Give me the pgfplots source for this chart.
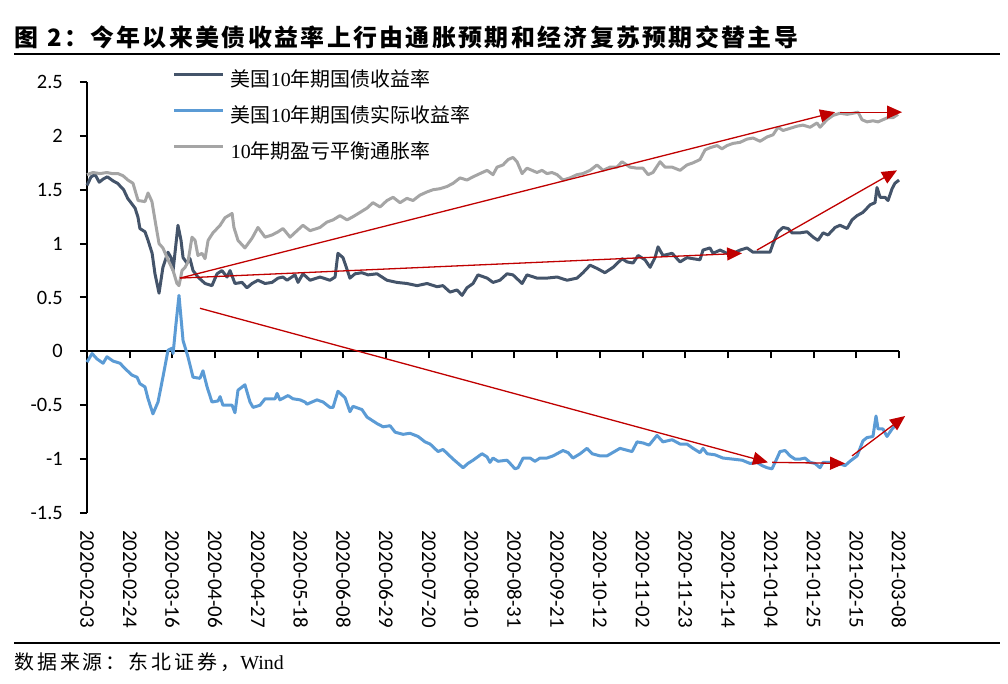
\documentclass[border=0pt]{standalone}
\usepackage{fontspec}
\usepackage{pgfplots}
\pgfplotsset{compat=1.18}
\usetikzlibrary{arrows.meta}
\setmainfont{Liberation Serif}
\newfontfamily\cjk{Noto Sans CJK SC}
\newfontfamily\calib{Carlito}
\definecolor{nom}{HTML}{44546A}
\definecolor{real}{HTML}{5B9BD5}
\definecolor{bei}{HTML}{A5A5A5}
\definecolor{arr}{HTML}{C00000}
\pgfplotsset{redarrow/.style={color=arr, line width=1.3bp, -{Triangle[length=15bp,width=13bp]}, forget plot}}
\begin{document}
\begin{tikzpicture}
\path[use as bounding box] (0,0) rectangle (1008bp,684bp);
\node[anchor=west, inner sep=0pt, font=\cjk\bfseries\fontsize{24}{28}\selectfont\addfontfeature{LetterSpace=10}] at (14bp,647bp) {图\hspace{9bp}2：今年以来美债收益率上行由通胀预期和经济复苏预期交替主导};
\draw[line width=2.5bp] (14bp,630bp) -- (1000bp,630bp);
\draw[line width=2bp] (14bp,41bp) -- (1000bp,41bp);
\node[anchor=west, inner sep=0pt, font=\fontsize{20}{24}\selectfont] at (14bp,22bp) {{\cjk\addfontfeature{LetterSpace=15}数据来源：东北证券，}Wind};

\begin{axis}[
 at={(87bp,171bp)}, anchor=south west,
 scale only axis, width=812bp, height=431bp,
 xmin=0, xmax=399, ymin=-1.5, ymax=2.5,
 axis y line*=left, axis x line*=middle,
 axis line style={line width=2bp, black},
 xtick={0,21,...,399}, xticklabels={},
 ytick={-1.5,-1,-0.5,0,0.5,1,1.5,2,2.5},
 yticklabels={-1.5,-1,-0.5,0,0.5,1,1.5,2,2.5},
 tick align=outside, major tick length=7bp,
 tick style={line width=2bp, black},
 yticklabel style={font=\calib\fontsize{20.5}{24}\selectfont, anchor=east, inner sep=0pt, xshift=-17bp},
 clip=false,
 legend cell align=left,
 legend style={at={(axis description cs:0.1059,0.9165)}, anchor=west, draw=none, fill=none, inner sep=0pt, outer sep=0pt, row sep=16bp, column sep=6bp, font=\fontsize{20}{24}\selectfont, nodes={inner sep=0pt, text height=15bp, text depth=5bp}},
 legend image code/.code={\draw[#1] (0bp,7bp) -- (49bp,7bp);},
]
\addplot[nom, line width=3bp, line join=round] coordinates {
(0,1.54)(2,1.62)(4,1.64)(6,1.57)(8,1.60)(10,1.62)(13,1.58)(15,1.56)(18,1.50)(20,1.42)(23.6,1.33)(25,1.25)(26,1.14)(28.5,1.11)(30,1.03)(32,0.91)(33.4,0.72)(35.4,0.54)(37.3,0.78)(39.8,0.92)(41.3,0.87)(42.3,0.75)(44.7,1.17)(46.2,1.03)(47.2,0.87)(49.1,0.82)(50.6,0.86)(52.1,0.75)(54.5,0.69)(58,0.63)(61.4,0.61)(63.9,0.72)(66.3,0.75)(68.8,0.69)(70.3,0.75)(72.7,0.63)(76.2,0.64)(78.6,0.59)(81.1,0.63)(84,0.66)(87.5,0.63)(90.9,0.64)(93.9,0.68)(96.3,0.69)(98.3,0.66)(102.2,0.71)(103.7,0.64)(106.1,0.72)(109.6,0.66)(114.5,0.69)(119.4,0.66)(121.9,0.69)(123.3,0.91)(125.8,0.87)(129.2,0.68)(131.7,0.72)(135.1,0.73)(138.1,0.71)(142.5,0.72)(147.4,0.66)(152.3,0.64)(157.2,0.63)(162.2,0.61)(167.1,0.63)(172,0.60)(174.9,0.61)(178.4,0.55)(181.8,0.57)(184.3,0.52)(186.7,0.59)(189.7,0.63)(192.1,0.71)(196.6,0.68)(199.5,0.64)(202.9,0.66)(206.4,0.72)(209.3,0.71)(213.8,0.63)(216.2,0.71)(221.1,0.68)(226,0.68)(231,0.69)(235.9,0.66)(240.8,0.68)(243.7,0.73)(247.2,0.80)(250.6,0.77)(254.5,0.73)(258.5,0.78)(262.9,0.86)(265.4,0.83)(268.3,0.82)(270.8,0.89)(274.2,0.85)(276.7,0.78)(279.1,0.87)(280.6,0.97)(283,0.89)(287.5,0.91)(291.4,0.83)(294.8,0.87)(297.8,0.86)(301.2,0.85)(302.7,0.94)(306.1,0.96)(307.6,0.91)(311.1,0.94)(314.5,0.91)(317.4,0.91)(320.9,0.94)(324.3,0.96)(327.3,0.92)(330.7,0.92)(335.6,0.92)(337.1,1.00)(339.6,1.11)(342,1.15)(344.5,1.14)(346.4,1.10)(350.4,1.10)(353.8,1.11)(356.8,1.06)(359.2,1.03)(361.7,1.10)(364.1,1.08)(367.6,1.15)(370,1.17)(373.5,1.14)(375.9,1.22)(378.4,1.26)(381.3,1.29)(384.8,1.36)(387.2,1.38)(388.2,1.52)(389.7,1.43)(392.1,1.43)(393.6,1.40)(395.6,1.51)(397,1.56)(399,1.59)
};
\addlegendentry{{\cjk 美国}10{\cjk 年期国债收益率}}
\addplot[real, line width=3bp, line join=round] coordinates {
(0,-0.10)(2.5,-0.02)(4.9,-0.07)(7.9,-0.11)(9.8,-0.05)(12.8,-0.09)(16.2,-0.11)(18.7,-0.16)(22.1,-0.22)(24.6,-0.24)(26,-0.30)(28.5,-0.33)(30,-0.44)(32.4,-0.58)(34.9,-0.47)(37.3,-0.24)(39.8,0.01)(41.8,0.03)(42.3,-0.02)(43.7,0.25)(45.2,0.52)(47.2,0.10)(49.6,-0.05)(52.1,-0.24)(55.5,-0.25)(57,-0.18)(59,-0.33)(61.4,-0.47)(64.4,-0.46)(65.4,-0.42)(66.8,-0.50)(71.3,-0.50)(72.7,-0.57)(74.2,-0.36)(77.6,-0.31)(80.1,-0.47)(81.6,-0.52)(85,-0.50)(87.5,-0.44)(92.4,-0.44)(93.4,-0.39)(94.8,-0.45)(98.8,-0.41)(101.2,-0.44)(104.7,-0.45)(107.1,-0.47)(108.1,-0.49)(113,-0.45)(116,-0.47)(119.4,-0.52)(120.9,-0.52)(123.3,-0.37)(126.8,-0.43)(129.2,-0.56)(130.7,-0.51)(135.1,-0.54)(137.6,-0.61)(142.5,-0.67)(145.5,-0.70)(148.9,-0.69)(151.4,-0.75)(155.3,-0.77)(158.7,-0.76)(162.7,-0.79)(166.1,-0.84)(168.6,-0.86)(172.5,-0.93)(174.9,-0.91)(179.9,-1.00)(184.8,-1.08)(187.2,-1.04)(189.7,-1.01)(194.1,-0.95)(196.6,-0.98)(198,-1.03)(199.5,-0.99)(202,-1.02)(206.4,-1.01)(207.9,-1.04)(210.3,-1.09)(211.8,-1.08)(214.3,-0.99)(217.7,-0.99)(220.1,-1.02)(222.6,-0.99)(226,-0.99)(229,-0.97)(233.9,-0.92)(236.4,-0.94)(238.8,-0.99)(242.3,-0.95)(245.7,-0.90)(248.2,-0.95)(252.1,-0.97)(255.5,-0.97)(261.9,-0.90)(267.8,-0.93)(270.3,-0.84)(273.2,-0.85)(276.2,-0.87)(280.1,-0.78)(283,-0.84)(287.5,-0.82)(291.4,-0.86)(294.8,-0.86)(297.8,-0.90)(301.2,-0.94)(302.7,-0.90)(304.7,-0.95)(308.6,-0.96)(312.5,-0.99)(317.4,-1.00)(321.9,-1.01)(325.8,-1.04)(329.2,-1.03)(331.7,-1.06)(334.2,-1.08)(336.6,-1.09)(339.1,-0.99)(340.5,-0.93)(343,-0.92)(345.5,-0.97)(347.9,-1.00)(350.4,-1.00)(352.8,-0.99)(355.3,-1.03)(357.7,-1.04)(360.2,-1.08)(361.7,-1.03)(365.1,-1.03)(369,-1.04)(372.5,-1.06)(374.9,-1.02)(378.4,-0.97)(381.3,-0.83)(383.3,-0.80)(386.2,-0.79)(387.7,-0.60)(388.7,-0.72)(391.1,-0.72)(393.1,-0.79)(395.6,-0.72)(398,-0.67)
};
\addlegendentry{{\cjk 美国}10{\cjk 年期国债实际收益率}}
\addplot[bei, line width=3bp, line join=round] coordinates {
(0,1.64)(2.9,1.66)(6.4,1.65)(9.8,1.66)(12.3,1.65)(15.2,1.65)(17.7,1.63)(20.1,1.59)(22.6,1.56)(25.1,1.40)(28.5,1.39)(30,1.47)(31.9,1.39)(33.4,1.22)(35.4,1.00)(37.3,0.96)(39.8,0.85)(42.3,0.75)(44.2,0.63)(45.2,0.61)(46.7,0.75)(48.2,0.78)(49.6,0.83)(51.6,1.06)(53.1,1.03)(54.5,0.89)(56.5,0.91)(58,0.86)(59.5,1.03)(61.9,1.10)(65.4,1.17)(67.8,1.24)(71.3,1.28)(72.2,1.15)(74.2,1.03)(77.6,0.96)(81.1,1.05)(84,1.15)(87.5,1.06)(90.9,1.08)(93.9,1.11)(96.3,1.14)(99.8,1.06)(103.2,1.12)(106.1,1.17)(109.6,1.12)(114.5,1.15)(117.9,1.20)(120.9,1.22)(124.3,1.26)(127.8,1.22)(130.7,1.25)(134.2,1.29)(137.6,1.33)(140.5,1.38)(144,1.34)(147.4,1.40)(150.4,1.43)(153.8,1.38)(157.2,1.42)(160.2,1.40)(163.6,1.45)(167.1,1.48)(170,1.50)(173.5,1.51)(176.9,1.53)(179.9,1.56)(183.3,1.61)(186.7,1.59)(189.7,1.62)(193.1,1.65)(196.6,1.68)(199.5,1.64)(201.5,1.71)(204.4,1.73)(206.9,1.78)(209.3,1.80)(211.3,1.76)(213.8,1.65)(216.2,1.70)(218.7,1.68)(221.1,1.66)(223.6,1.68)(226,1.65)(228.5,1.66)(231,1.64)(233.9,1.59)(237.3,1.61)(240.8,1.64)(243.7,1.65)(247.2,1.68)(250.6,1.73)(253.6,1.68)(257,1.71)(260.4,1.71)(262.9,1.76)(266.8,1.71)(270.3,1.70)(273.2,1.70)(275.7,1.64)(278.1,1.66)(281.6,1.76)(284,1.71)(287.5,1.71)(291.4,1.68)(294.8,1.73)(297.8,1.75)(301.2,1.78)(303.7,1.87)(306.1,1.89)(309.6,1.91)(312,1.88)(314.5,1.91)(317.4,1.93)(320.9,1.94)(324.3,1.97)(327.3,1.98)(330.7,1.95)(334.2,1.99)(337.1,2.01)(339.6,2.08)(342,2.05)(345.5,2.07)(348.9,2.09)(351.8,2.10)(355.3,2.08)(358.7,2.12)(360.2,2.08)(363.6,2.15)(366.6,2.19)(370,2.21)(373.5,2.20)(376.4,2.21)(378.9,2.22)(380.8,2.15)(383.3,2.13)(386.2,2.14)(388.7,2.13)(391.1,2.15)(393.6,2.17)(396.1,2.17)(398.5,2.20)
};
\addlegendentry{10{\cjk 年期盈亏平衡通胀率}}
\addplot[redarrow] coordinates {(45.7,0.68)(367.6,2.22)};
\addplot[redarrow] coordinates {(45.7,0.68)(321.9,0.91)};
\addplot[redarrow] coordinates {(370,2.22)(400.5,2.22)};
\addplot[redarrow] coordinates {(329.2,0.94)(398,1.68)};
\addplot[redarrow] coordinates {(55.5,0.40)(334.6,-1.03)};
\addplot[redarrow] coordinates {(336.6,-1.03)(372.5,-1.04)};
\addplot[redarrow] coordinates {(375.9,-0.97)(402,-0.60)};
\end{axis}

\begin{axis}[
 at={(87bp,171bp)}, anchor=south west,
 scale only axis, width=812bp, height=431bp,
 xmin=0, xmax=399, ymin=-1.5, ymax=2.5,
 hide y axis, axis x line*=bottom,
 x axis line style={draw=none},
 xtick={0,21,...,399},
 xticklabels={2020-02-03,2020-02-24,2020-03-16,2020-04-06,2020-04-27,2020-05-18,2020-06-08,2020-06-29,2020-07-20,2020-08-10,2020-08-31,2020-09-21,2020-10-12,2020-11-02,2020-11-23,2020-12-14,2021-01-04,2021-01-25,2021-02-15,2021-03-08},
 xtick style={draw=none},
 xticklabel style={rotate=-90, anchor=west, font=\calib\fontsize{21}{24}\selectfont, inner xsep=17bp, inner ysep=0pt},
]
\addplot[draw=none] coordinates {(0,0)};
\end{axis}
\end{tikzpicture}
\end{document}
